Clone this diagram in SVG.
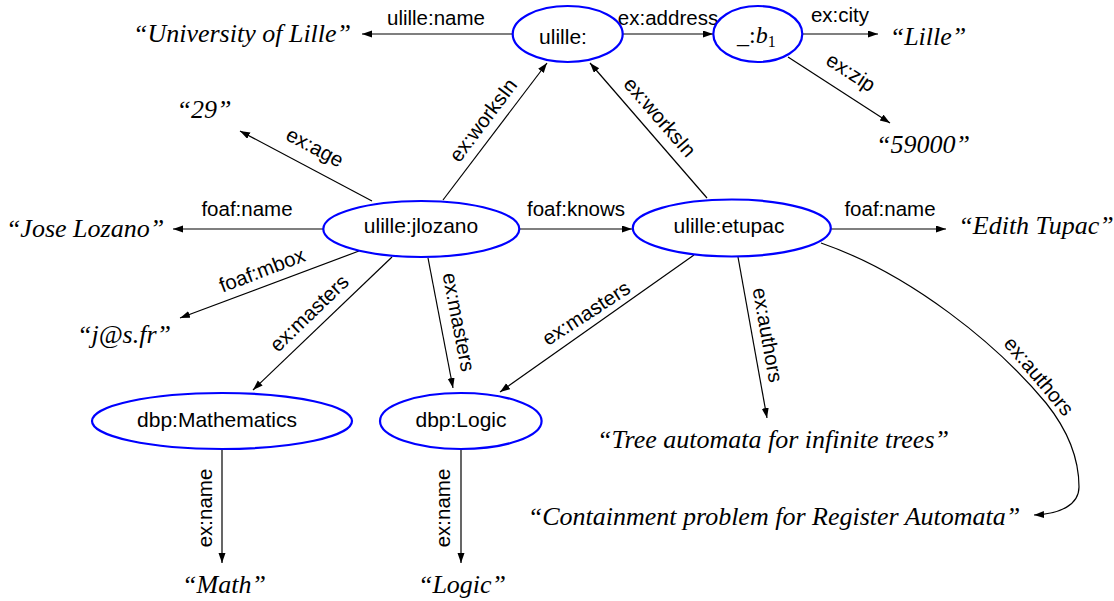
<svg xmlns="http://www.w3.org/2000/svg" width="1114" height="601" viewBox="0 0 1114 601">
<style>
.node ellipse{fill:#fff;stroke:#0000ff;stroke-width:2.2}
.nl{font-family:"Liberation Sans",Arial,sans-serif;font-size:21px;text-anchor:middle;fill:#000}
.el{font-family:"Liberation Sans",Arial,sans-serif;font-size:20.5px;text-anchor:middle;fill:#000}
.lit{font-family:"Liberation Serif","Times New Roman",serif;font-size:26px;font-style:italic;text-anchor:middle;fill:#000}
.edges path{fill:none;stroke:#000;stroke-width:1.2;marker-end:url(#arr)}
</style>
<defs>
<marker id="arr" markerUnits="userSpaceOnUse" markerWidth="11" markerHeight="8" refX="10" refY="3.5" orient="auto">
<path d="M0,0 L10,3.5 L0,7 Z" fill="#000"/>
</marker>
</defs>
<rect width="1114" height="601" fill="#fff"/>
<g id="connectors" class="edges">
<path d="M512.7,34 L362,34"/>
<path d="M622.7,34 L713,34"/>
<path d="M802.3,34 L878,34"/>
<path d="M788,57 L890,123"/>
<path d="M443,200 L547,63"/>
<path d="M707,198 L590,63"/>
<path d="M372,201 L240,131"/>
<path d="M323,229 L173,229"/>
<path d="M519,229 L632,229"/>
<path d="M831,229 L946,229"/>
<path d="M359,251 L180,318"/>
<path d="M392,257 L253,390"/>
<path d="M428,258 L453,388"/>
<path d="M694,255 L500,392"/>
<path d="M738,257 L767,418"/>
<path d="M821,243 C911,274 998,345 1046,403 C1066,428 1079,457 1079,487 C1079,505 1060,514 1034,515"/>
<path d="M222,449 L222,563"/>
<path d="M461,449 L461,563"/>
</g>
<g id="edge-labels">
<text class="el" x="436" y="25">ulille:name</text>
<text class="el" x="668" y="25">ex:address</text>
<text class="el" x="840" y="22">ex:city</text>
<text class="el" transform="translate(851,72) rotate(33)" dy=".35em">ex:zip</text>
<text class="el" transform="translate(483,120) rotate(-53)" dy=".35em">ex:worksIn</text>
<text class="el" transform="translate(660,117) rotate(49)" dy=".35em">ex:worksIn</text>
<text class="el" transform="translate(315,147) rotate(28)" dy=".35em">ex:age</text>
<text class="el" x="247" y="216">foaf:name</text>
<text class="el" x="576" y="216">foaf:knows</text>
<text class="el" x="890" y="216">foaf:name</text>
<text class="el" transform="translate(262,270) rotate(-21)" dy=".35em">foaf:mbox</text>
<text class="el" transform="translate(309,313) rotate(-44)" dy=".35em">ex:masters</text>
<text class="el" transform="translate(459,322) rotate(79)" dy=".35em">ex:masters</text>
<text class="el" transform="translate(586,313) rotate(-33)" dy=".35em">ex:masters</text>
<text class="el" transform="translate(768,335) rotate(80)" dy=".35em">ex:authors</text>
<text class="el" transform="translate(1039,376) rotate(50)" dy=".35em">ex:authors</text>
<text class="el" transform="translate(205,508) rotate(-90)" dy=".35em">ex:name</text>
<text class="el" transform="translate(443,508) rotate(-90)" dy=".35em">ex:name</text>
</g>
<g id="n-ulille" class="node"><ellipse cx="567.7" cy="34" rx="55" ry="28"/><text class="nl" x="563" y="44">ulille:</text></g>
<g id="n-b1" class="node"><ellipse cx="757.8" cy="34" rx="44.5" ry="28"/><text x="737" y="43" style="font-family:'Liberation Serif','Times New Roman',serif;font-size:24px">_:<tspan font-style="italic">b</tspan><tspan font-size="16" dy="4">1</tspan></text></g>
<g id="n-jlozano" class="node"><ellipse cx="421.3" cy="229" rx="98" ry="28"/><text class="nl" x="421" y="233">ulille:jlozano</text></g>
<g id="n-etupac" class="node"><ellipse cx="731.8" cy="228" rx="99" ry="28.5"/><text class="nl" x="729" y="233">ulille:etupac</text></g>
<g id="n-math" class="node"><ellipse cx="222" cy="421" rx="130" ry="28"/><text class="nl" x="217" y="427">dbp:Mathematics</text></g>
<g id="n-logic" class="node"><ellipse cx="460.8" cy="421" rx="80.8" ry="28"/><text class="nl" x="461" y="427">dbp:Logic</text></g>
<g id="l-univ"><text class="lit" x="242" y="42">“University of Lille”</text></g>
<g id="l-29"><text class="lit" x="204" y="118">“29”</text></g>
<g id="l-lille"><text class="lit" x="928" y="45">“Lille”</text></g>
<g id="l-59000"><text class="lit" x="923" y="153">“59000”</text></g>
<g id="l-jose"><text class="lit" x="85" y="237">“Jose Lozano”</text></g>
<g id="l-edith"><text class="lit" x="1036" y="234">“Edith Tupac”</text></g>
<g id="l-mail"><text class="lit" x="124" y="343">“j@s.fr”</text></g>
<g id="l-tree"><text class="lit" x="773" y="448">“Tree automata for infinite trees”</text></g>
<g id="l-contain"><text class="lit" x="774" y="525">“Containment problem for Register Automata”</text></g>
<g id="l-math"><text class="lit" x="224" y="593">“Math”</text></g>
<g id="l-logic"><text class="lit" x="462" y="593">“Logic”</text></g>
</svg>
